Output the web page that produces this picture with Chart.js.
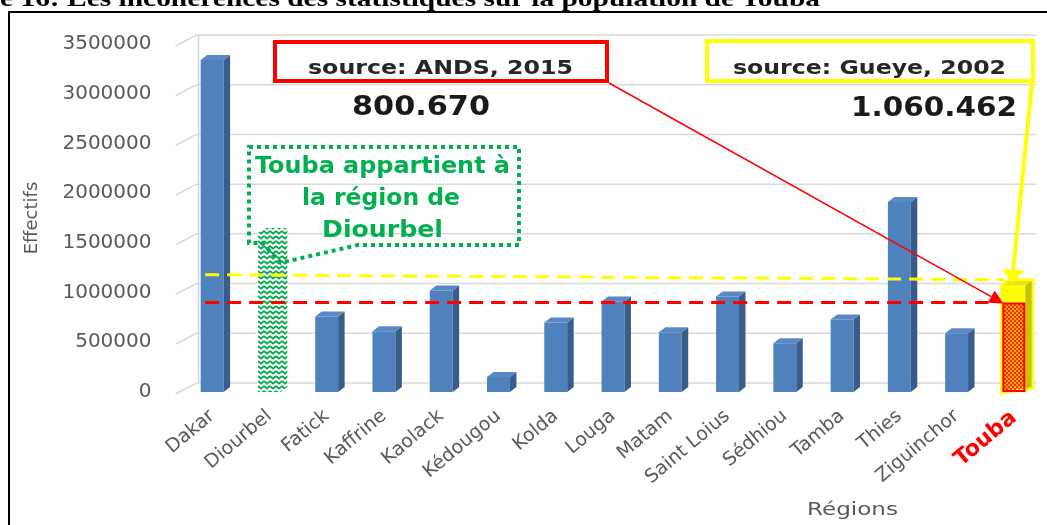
<!DOCTYPE html>
<html>
<head>
<meta charset="utf-8">
<script src="https://cdn.jsdelivr.net/npm/chart.js@4.4.1/dist/chart.umd.min.js"></script>
<style>
html,body{margin:0;padding:0;background:#fff;overflow:hidden}
#wrap{position:relative;width:1047px;height:525px;overflow:hidden;background:#fff}
#c{position:absolute;left:0;top:0}
#frame{position:absolute;left:8px;top:11px;width:1200px;height:700px;border-left:2px solid #000;border-top:2px solid #000;pointer-events:none}
.t{position:absolute;white-space:nowrap;transform-origin:0 0;font-family:"DejaVu Sans";}
#title{font-family:"Liberation Serif";font-weight:bold;font-size:24px;line-height:24px;color:#000}
.box{position:absolute;box-sizing:border-box;background:#fff;border:4px solid}
.src{font-weight:bold;font-size:20px;line-height:20px;color:#262626}
.big{font-weight:bold;font-size:27px;line-height:27px;color:#1a1a1a}
.grn{font-weight:bold;font-size:23px;line-height:23px;color:#00b050}
.axt{font-size:18px;line-height:18px;color:#595959}
</style>
</head>
<body>
<div id="wrap">
<canvas id="c" width="1047" height="525"></canvas>
<div id="frame"></div>
<div class="t" id="title" style="left:0px;top:-13.6px" data-w="820">e 16: Les incohérences des statistiques sur la population de Touba</div>

<div class="box" style="left:273px;top:40px;width:336px;height:43px;border-color:#ff0000"></div>
<div class="t src" style="left:308px;top:56.7px" data-w="265">source: ANDS, 2015</div>
<div class="t big" style="left:352px;top:92px" data-w="138">800.670</div>

<div class="box" style="left:705px;top:39px;width:330px;height:44px;border-color:#ffff00"></div>
<div class="t src" style="left:733px;top:56.7px" data-w="273">source: Gueye, 2002</div>
<div class="t big" style="left:851px;top:93.4px" data-w="166">1.060.462</div>

<div class="t grn" style="left:255px;top:153.5px" data-w="255">Touba appartient à</div>
<div class="t grn" style="left:302px;top:185.5px" data-w="158">la région de</div>
<div class="t grn" style="left:322px;top:217.5px" data-w="121">Diourbel</div>

<div class="t axt" style="left:807px;top:499.8px" data-w="91">Régions</div>
</div>

<script>
// ---------------- DATA ----------------
const categories = ["Dakar","Diourbel","Fatick","Kaffrine","Kaolack","Kédougou","Kolda","Louga","Matam","Saint Loius","Sédhiou","Tamba","Thies","Ziguinchor","Touba"];
const regionValues = [3340000,1600000,760000,610000,1020000,150000,700000,910000,600000,960000,490000,730000,1910000,590000];
const toubaANDS = 890000;     // height drawn for ANDS 2015 (800.670)
const toubaGueye = 1070000;   // height drawn for Gueye 2002 (1.060.462)
const yTickValues = [0,500000,1000000,1500000,2000000,2500000,3000000,3500000];
const refRed = [900000, 900000];        // red dashed line (start, end)
const refYellow = [1180000, 1130000];   // yellow dashed line (start, end)
const calloutTarget = 1300000;          // where the green callout points on Diourbel

const TOUBA = categories.length - 1;
const seriesMain = regionValues.concat([toubaANDS]);
const seriesExtra = categories.map((c,i)=> i===TOUBA ? toubaGueye - toubaANDS : null);

// fit text widths
document.querySelectorAll('[data-w]').forEach(el=>{
  const w = el.getBoundingClientRect().width;
  el.style.transform = 'scaleX(' + (parseFloat(el.dataset.w)/w) + ')';
});

const canvas = document.getElementById('c');
const ctx = canvas.getContext('2d');

function tile(w,h,fn){const c=document.createElement('canvas');c.width=w;c.height=h;fn(c.getContext('2d'));return ctx.createPattern(c,'repeat');}
const greenPat = tile(6,5,g=>{g.fillStyle='#fff';g.fillRect(0,0,6,5);g.strokeStyle='#00a84a';g.lineWidth=1.8;g.beginPath();g.moveTo(0,1);g.lineTo(3,3.6);g.lineTo(6,1);g.stroke();});
const redPat = tile(4,4,g=>{g.fillStyle='#ff2a00';g.fillRect(0,0,4,4);g.fillStyle='#ffb000';g.fillRect(0,0,2,2);g.fillRect(2,2,2,2);});

const blue='#4f81bd', blueSide='#385d8a', blueTop='#5a88c4';
const DX=6.5, DY=5;

function poly(pts, fill){ctx.beginPath();ctx.moveTo(pts[0][0],pts[0][1]);for(let i=1;i<pts.length;i++)ctx.lineTo(pts[i][0],pts[i][1]);ctx.closePath();ctx.fillStyle=fill;ctx.fill();}
function arrow(c,x0,y0,x1,y1,color,lw,hl,hw){
  const a=Math.atan2(y1-y0,x1-x0);
  const bx=x1-hl*Math.cos(a), by=y1-hl*Math.sin(a);
  c.strokeStyle=color;c.lineWidth=lw;c.setLineDash([]);
  c.beginPath();c.moveTo(x0,y0);c.lineTo(bx,by);c.stroke();
  c.fillStyle=color;c.beginPath();c.moveTo(x1,y1);
  c.lineTo(bx+hw*Math.sin(a),by-hw*Math.cos(a));
  c.lineTo(bx-hw*Math.sin(a),by+hw*Math.cos(a));c.closePath();c.fill();
}

const deco = {
  id:'deco',
  beforeDatasetsDraw(chart){
    const {ctx:c, chartArea:a, scales:{y}} = chart;
    c.save();
    c.strokeStyle='#d9d9d9'; c.lineWidth=1.5;
    yTickValues.forEach(v=>{
      const py=y.getPixelForValue(v);
      c.beginPath();c.moveTo(a.left-8,py+2);c.lineTo(a.left+13,py-9);c.lineTo(a.right-6,py-9);c.stroke();
    });
    c.strokeStyle='#cdd7e6';
    c.beginPath();c.moveTo(a.left+15,y.getPixelForValue(yTickValues[yTickValues.length-1])-9);c.lineTo(a.left+15,y.getPixelForValue(0)-9);c.stroke();
    c.restore();
  },
  afterDatasetsDraw(chart){
    const {ctx:c, scales:{x,y}} = chart;
    const m0=chart.getDatasetMeta(0).data, m1=chart.getDatasetMeta(1).data;
    c.save();
    m0.forEach((b,i)=>{
      const l=b.x-b.width/2, r=b.x+b.width/2, bot=b.base;
      let t=b.y, side=blueSide, topc=blueTop;
      if(i===1){side=greenPat;topc=greenPat;}
      if(i===TOUBA){t=m1[i].y;side='#c4c400';topc='#e8e800';}
      poly([[r,t],[r+DX,t-DY],[r+DX,bot-DY],[r,bot]],side);
      poly([[l,t],[l+DX,t-DY],[r+DX,t-DY],[r,t]],topc);
      if(i===TOUBA){
        c.strokeStyle='rgba(255,255,0,0.9)';c.lineWidth=2.5;
        c.beginPath();c.moveTo(l-1.2,t);c.lineTo(l-1.2,bot+1.2);c.lineTo(r+DX+1.2,bot+1.2-DY);c.lineTo(r+DX+1.2,t-DY-1.2);c.lineTo(l+DX,t-DY-1.2);c.closePath();c.stroke();
        c.strokeStyle='#ff0000';c.lineWidth=2;c.strokeRect(l+1,b.y,b.width-2,bot-b.y-1);
      }
    });
    // dashed reference lines
    const xs = x.getPixelForValue(0)-7;
    const tb = m0[TOUBA];
    const xe = tb.x - tb.width/2 - 2;
    c.setLineDash([14,8]);c.lineWidth=3;
    c.strokeStyle='#ffff00';
    c.beginPath();c.moveTo(xs,y.getPixelForValue(refYellow[0]));c.lineTo(xe+4,y.getPixelForValue(refYellow[1]));c.stroke();
    c.strokeStyle='#ff0000';
    c.beginPath();c.moveTo(xs,y.getPixelForValue(refRed[0]));c.lineTo(xe-12,y.getPixelForValue(refRed[1]));c.stroke();
    c.setLineDash([]);
    c.restore();
  },
  afterDraw(chart){
    const {ctx:c, scales:{x,y}} = chart;
    const m0=chart.getDatasetMeta(0).data, m1=chart.getDatasetMeta(1).data;
    const tb=m0[TOUBA];
    c.save();
    arrow(c,609,83,tb.x-tb.width/2+1,tb.y,'#ff0000',1.5,14,7);
    arrow(c,1032,83,tb.x-2,m1[TOUBA].y-2,'#ffff00',4,14,11);
    const db=m0[1];
    const tipX=db.x+db.width/2, tipY=y.getPixelForValue(calloutTarget);
    c.strokeStyle='#00b050';c.lineWidth=4;c.setLineDash([4,4]);
    c.beginPath();
    c.moveTo(249,147);c.lineTo(519,147);c.lineTo(519,245);c.lineTo(358,245);
    c.lineTo(tipX,tipY);c.lineTo(262,243);c.lineTo(249,243);c.closePath();c.stroke();
    c.restore();
  }
};

new Chart(ctx,{
  type:'bar',
  data:{labels:categories,datasets:[
    {data:seriesMain,stack:'s',barPercentage:0.4,categoryPercentage:1,
     backgroundColor:c=>c.dataIndex===1?greenPat:(c.dataIndex===TOUBA?redPat:blue),
     borderWidth:0},
    {data:seriesExtra,stack:'s',barPercentage:0.4,categoryPercentage:1,backgroundColor:'#ffff00',borderWidth:0}
  ]},
  options:{
    responsive:false,animation:false,
    layout:{padding:{left:12,right:4.5,top:44,bottom:0}},
    plugins:{legend:{display:false},tooltip:{enabled:false},title:{display:false}},
    scales:{
      x:{stacked:true,grid:{display:false,drawTicks:false,tickLength:0},border:{display:false},
         ticks:{autoSkip:false,maxRotation:40,minRotation:40,padding:13,
           color:c=>c.index===TOUBA?'#ff0000':'#595959',
           font:c=>c.index===TOUBA?{family:'DejaVu Sans',size:22,weight:'bold'}:{family:'DejaVu Sans',size:19}},
         afterFit:s=>{s.height=133;}},
      y:{stacked:true,min:0,max:3500000,grid:{display:false,drawTicks:false,tickLength:0},border:{display:false},
         afterBuildTicks:s=>{s.ticks=yTickValues.map(v=>({value:v}));},
         ticks:{padding:32,color:'#595959',font:{family:'DejaVu Sans',size:20},callback:v=>String(v)},
         title:{display:true,text:'Effectifs',color:'#595959',font:{family:'DejaVu Sans',size:18},padding:{top:10,bottom:0}},
         afterFit:s=>{s.width=171.5;}}
    }
  },
  plugins:[deco]
});
</script>
</body>
</html>
